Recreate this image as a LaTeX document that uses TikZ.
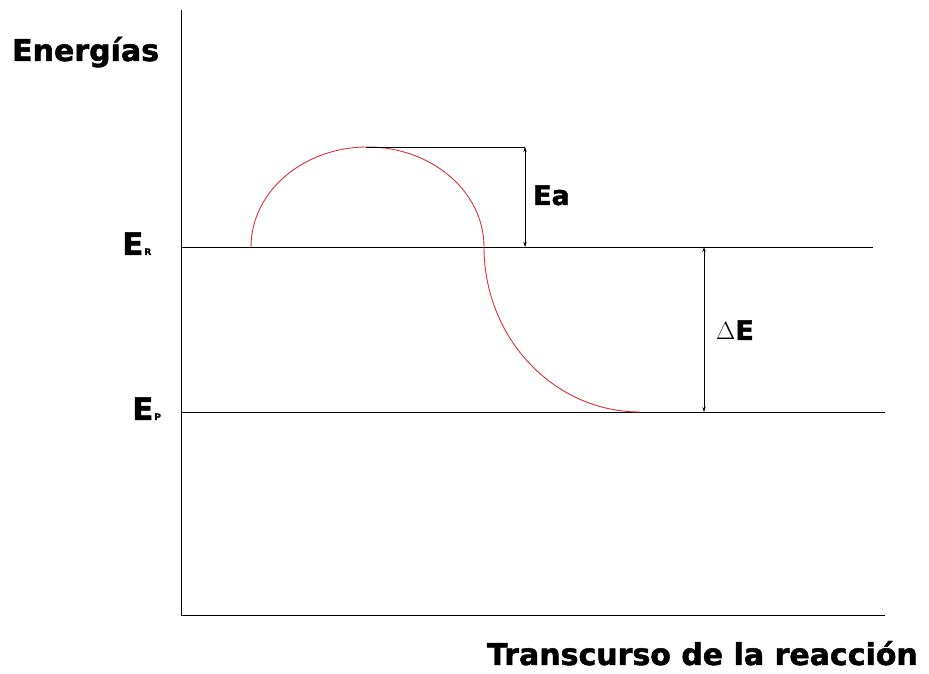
\documentclass[tikz,border=0pt]{standalone}
\usepackage{fontspec}
\setmainfont{DejaVu Sans}[BoldFeatures={FakeBold=1.6}]
\usepackage{xcolor}
\definecolor{curvered}{HTML}{D9303A}
\usepackage{tikz}
\usetikzlibrary{arrows.meta,positioning,calc}

\newcommand{\subsz}[1]{\hspace{1pt}{\fontsize{9}{9}\selectfont #1}}

\begin{document}
\begin{tikzpicture}[
  x=1pt, y=1pt,
  lvl/.style={draw=black, line width=0.8pt},
  lbl/.style={font=\bfseries\fontsize{31}{32}\selectfont, inner sep=0pt},
  elbl/.style={font=\bfseries\fontsize{30}{30}\selectfont, inner sep=0pt},
  small/.style={font=\bfseries\fontsize{27}{28}\selectfont, inner sep=0pt},
  arr/.style={{Stealth[length=1.8mm,width=1.2mm]}-{Stealth[length=1.8mm,width=1.2mm]}, line width=0.6pt},
  curve/.style={draw=curvered, line width=0.9pt}
]
  \useasboundingbox (0,0) rectangle (929,674);

  % axes
  \coordinate (ytop) at (181,664);
  \coordinate (orig) at (181,59);
  \coordinate (xend) at (885,59);
  \draw[lvl] (ytop) -- (orig) -- (xend);

  % energy levels
  \coordinate (rleft) at (181,427);
  \coordinate (rright) at (873,427);
  \coordinate (pleft) at (181,262);
  \coordinate (pright) at (885,262);
  \draw[lvl] (rleft) -- (rright);
  \draw[lvl] (pleft) -- (pright);

  % reaction path
  \coordinate (start) at (251,427);
  \draw[curve] (start) arc[start angle=180, end angle=0, x radius=116.5, y radius=100]
    arc[start angle=180, end angle=270, x radius=156, y radius=165];

  % activation energy
  \coordinate (peak) at (366,527);
  \coordinate (eatop) at (525,527);
  \coordinate (eabot) at (525,427);
  \draw[lvl] (peak) -- (eatop);
  \draw[arr] (eatop) -- (eabot);

  % reaction energy
  \coordinate (detop) at (704,427);
  \coordinate (debot) at (704,262);
  \draw[arr] (detop) -- (debot);

  % labels
  \node[elbl, anchor=base west] (energ) at (12,613) {Energías};
  \node[elbl, anchor=base east] (trans) at (918,9) {Transcurso de la reacción};
  \node[lbl, anchor=base west] (er) at (122,419) {E\subsz{R}};
  \node[lbl, anchor=base west] (ep) at (132,254) {E\subsz{P}};
  \node[small, anchor=base west] (ea) at (533,469) {Ea};
  \node[small, anchor=base west] (de) at (716,334) {$\Delta$E};
\end{tikzpicture}
\end{document}
